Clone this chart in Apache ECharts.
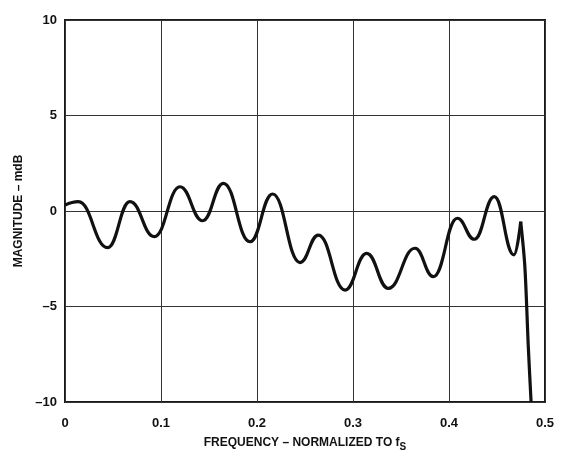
<!DOCTYPE html>
<html>
<head>
<meta charset="utf-8">
<script src="https://cdn.jsdelivr.net/npm/echarts@6/dist/echarts.min.js"></script>
<style>
  html, body { margin: 0; padding: 0; background: #fff; }
  #chart { width: 562px; height: 453px; }
</style>
</head>
<body>
<div id="chart"></div>
<script>
// frequency (normalized to fs) and magnitude (mdB) at the turning points
var freq = [0, 0.0139, 0.0444, 0.0677, 0.093, 0.1198, 0.1434, 0.165, 0.1927, 0.2163,
  0.2448, 0.2639, 0.2917, 0.3142, 0.3368, 0.3646, 0.3837, 0.4087, 0.4264, 0.4472,
  0.4677, 0.4747];
var magnitude = [0.31, 0.49, -1.92, 0.49, -1.34, 1.27, -0.51, 1.45, -1.61, 0.89,
  -2.70, -1.26, -4.14, -2.22, -4.05, -1.95, -3.44, -0.38, -1.48, 0.75,
  -2.30, -0.56];
// roll-off past the last ripple
var dropFreq = [0.4747, 0.479, 0.4826, 0.4855];
var dropMagnitude = [-0.56, -2.9, -7.1, -10];
var yTicks = [-10, -5, 0, 5, 10];
var xTicks = [0, 0.1, 0.2, 0.3, 0.4, 0.5];

function pairs(xs, ys) {
  var out = [];
  for (var i = 0; i < xs.length; i++) out.push([xs[i], ys[i]]);
  return out;
}

var chart = echarts.init(document.getElementById('chart'));
var labelFont = { color: '#111', fontFamily: 'Liberation Sans, Arial, sans-serif', fontWeight: 'bold', fontSize: 13 };
var curveStyle = { color: '#111', width: 3.2 };

chart.setOption({
  animation: false,
  backgroundColor: '#fff',
  grid: {
    left: 65, right: 17, top: 20, bottom: 51,
    outerBoundsMode: 'none',
    show: true, borderColor: '#1a1a1a', borderWidth: 2, backgroundColor: 'transparent'
  },
  xAxis: {
    type: 'value',
    min: xTicks[0], max: xTicks[xTicks.length - 1], interval: 0.1,
    axisLine: { show: false },
    axisTick: { show: false },
    splitLine: { show: true, lineStyle: { color: '#333', width: 1 } },
    axisLabel: Object.assign({ margin: 15, formatter: function (v) { return String(+v.toFixed(1)); } }, labelFont),
    name: '{t|FREQUENCY – NORMALIZED TO f}{s|S}',
    nameLocation: 'middle',
    nameGap: 31,
    nameTextStyle: {
      rich: {
        t: { fontFamily: 'Liberation Sans, Arial, sans-serif', fontWeight: 'bold', fontSize: 12, color: '#111' },
        s: { fontFamily: 'Liberation Sans, Arial, sans-serif', fontWeight: 'bold', fontSize: 10, color: '#111', padding: [9, 0, 0, 0] }
      }
    }
  },
  yAxis: {
    type: 'value',
    min: yTicks[0], max: yTicks[yTicks.length - 1], interval: 5,
    axisLine: { show: false },
    axisTick: { show: false },
    splitLine: { show: true, lineStyle: { color: '#333', width: 1 } },
    axisLabel: Object.assign({ margin: 8, formatter: function (v) { return String(v).replace('-', '–'); } }, labelFont),
    name: 'MAGNITUDE – mdB',
    nameLocation: 'middle',
    nameGap: 29,
    nameRotate: 90,
    nameTextStyle: { fontFamily: 'Liberation Sans, Arial, sans-serif', fontWeight: 'bold', fontSize: 12, color: '#111' }
  },
  series: [{
    type: 'line',
    data: pairs(freq, magnitude),
    smooth: 0.45,
    smoothMonotone: 'x',
    showSymbol: false,
    lineStyle: curveStyle
  }, {
    type: 'line',
    data: pairs(dropFreq, dropMagnitude),
    smooth: 0.3,
    showSymbol: false,
    lineStyle: curveStyle
  }]
});
</script>
</body>
</html>
